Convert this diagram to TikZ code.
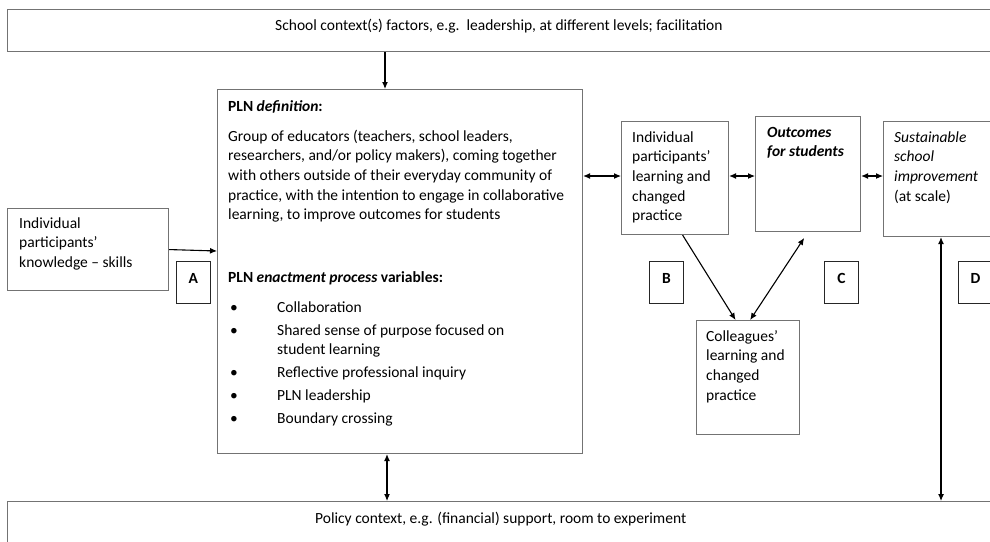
\documentclass[tikz,border=0pt]{standalone}
\usepackage{fontspec}
\setmainfont{Carlito}
\usetikzlibrary{arrows.meta,calc}
\newcommand\pbul{\makebox[49pt][l]{\hspace{2pt}•}}
\begin{document}
\begin{tikzpicture}[x=1pt,y=-1pt,
  box/.style={draw=black!55, line width=1.1pt, anchor=north west, inner sep=0pt},
  lab/.style={draw=black!85, line width=0.8pt, anchor=north west, inner sep=0pt, minimum width=34pt, minimum height=42pt, font=\fontsize{15.5}{19.7}\selectfont\bfseries, text height=10pt, text depth=8pt},
  txt/.style={anchor=north west, inner sep=0pt, align=left, font=\fontsize{15.5}{19.7}\selectfont},
  one/.style={anchor=base west, inner sep=0pt, font=\fontsize{15.5}{19.7}\selectfont},
  arr/.style={line width=1.1pt, -{Latex[length=7pt,width=6pt]}},
  darr/.style={line width=1.1pt, {Latex[length=7pt,width=6pt]}-{Latex[length=7pt,width=6pt]}},
]
\useasboundingbox (0,0) rectangle (990,541);
\fill[white] (0,0) rectangle (990,541);

% boxes
\node[box, minimum width=1000pt, minimum height=42pt] (school) at (7,9) {};
\node[one] (schooltxt) at (275,30) {School context(s) factors, e.g.\ \ leadership, at different levels; facilitation};

\node[box, minimum width=161pt, minimum height=82pt] (indiv) at (7,208) {};
\node[txt] (indivtxt) at (19,214.2) {\strut Individual\\participants’\\knowledge – skills};
\node[lab] (A) at (176,261) {A};

\node[box, minimum width=365pt, minimum height=364pt] (pln) at (217,89) {};
\node[one] (plntitle) at (228,111) {\bfseries PLN \textit{definition}:};
\node[txt] (plndef) at (228,127.2) {\strut Group of educators (teachers, school leaders,\\researchers, and/or policy makers), coming together\\with others outside of their everyday community of\\practice, with the intention to engage in collaborative\\learning, to improve outcomes for students};
\node[one] (enact) at (228,282) {\bfseries PLN \textit{enactment process} variables:};
\node[txt, font=\fontsize{15.5}{19.3}\selectfont] (bullets) at (228,298.5) {\strut\pbul Collaboration\\[3.7pt]\pbul Shared sense of purpose focused on\\\hspace*{49pt}student learning\\[3.7pt]\pbul Reflective professional inquiry\\[3.7pt]\pbul PLN leadership\\[3.7pt]\pbul Boundary crossing};

\node[box, minimum width=107pt, minimum height=113pt] (ipl) at (621,121) {};
\node[txt] (ipltxt) at (632,128.2) {\strut Individual\\participants’\\learning and\\changed\\practice};
\node[lab] (B) at (649,261) {B};

\node[box, minimum width=105pt, minimum height=115pt] (out) at (755,116) {};
\node[txt, font=\fontsize{15.5}{19.7}\selectfont\bfseries\itshape] (outtxt) at (767,123.2) {\strut Outcomes\\for students};
\node[lab] (C) at (824,261) {C};

\node[box, minimum width=120pt, minimum height=115pt] (sus) at (883,121) {};
\node[txt] (sustxt) at (894,128.2) {\strut\textit{Sustainable}\\\textit{school}\\\textit{improvement}\\(at scale)};
\node[lab] (D) at (958,261) {D};

\node[box, minimum width=103pt, minimum height=114pt] (col) at (696,320) {};
\node[txt] (coltxt) at (706,327.2) {\strut Colleagues’\\learning and\\changed\\practice};

\node[box, minimum width=1000pt, minimum height=60pt] (policy) at (7,501) {};
\node[one] (policytxt) at (315,523) {Policy context, e.g. (financial) support, room to experiment};

% connectors
\coordinate (xs) at (385,0);
\draw[arr] (xs |- school.south) -- (xs |- pln.north);
\coordinate (ya) at (0,251);
\draw[arr] (indiv.east) -- (ya -| pln.west);
\coordinate (yr) at (0,176);
\draw[darr] (yr -| pln.east) -- (yr -| ipl.west);
\draw[darr] (yr -| ipl.east) -- (yr -| out.west);
\draw[darr] (yr -| out.east) -- (yr -| sus.west);
\draw[arr] ($(ipl.south west)!0.57!(ipl.south east)$) -- ($(col.north west)!0.38!(col.north east)$);
\draw[darr, shorten >=7pt] ($(col.north west)!0.52!(col.north east)$) -- (out.south);
\coordinate (xd) at (941,0);
\draw[darr] (xd |- sus.south) -- (xd |- policy.north);
\coordinate (xp) at (387,0);
\draw[darr] (xp |- pln.south) -- (xp |- policy.north);
\end{tikzpicture}
\end{document}
